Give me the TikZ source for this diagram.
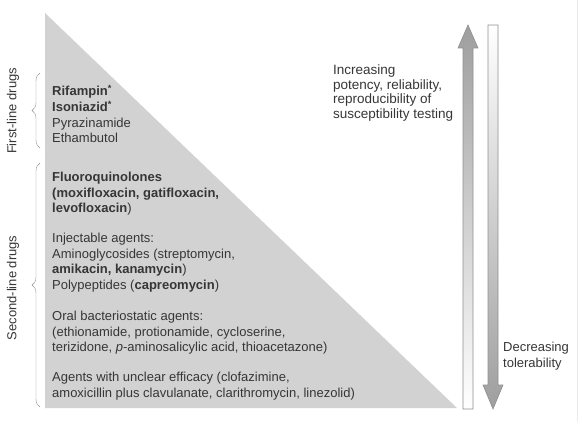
\documentclass[tikz,border=0pt]{standalone}
\usepackage{fontspec}
\setmainfont{Liberation Sans}
\usetikzlibrary{decorations.pathreplacing}
\definecolor{testo}{HTML}{363636}
\definecolor{triangolo}{HTML}{D2D2D2}
\definecolor{bordo}{HTML}{909090}
\begin{document}
\begin{tikzpicture}[
        x=1pt, y=-1pt,
        every node/.style={inner sep=0pt, text=testo, font=\fontsize{13}{15.6}\selectfont},
        gruppo/.style={anchor=north west, align=left},
        graffa/.style={draw=bordo, thin, decorate, decoration={brace, amplitude=8pt}},
        etichetta_linea/.style={rotate=90, anchor=center},
        freccia/.style={draw=bordo, line width=0.6pt}
        ]
    \useasboundingbox (0,0) rectangle (582,425);
    \draw[black!8] (577,0) -- (577,422);
    % triangolo
    \coordinate (apice) at (45,13);
    \coordinate (base_sx) at (45,408);
    \coordinate (base_dx) at (457,408);
    \fill[triangolo] (apice) -- (base_sx) -- (base_dx) -- cycle;
    % farmaci
    \node[gruppo] (prima) at (52,85) {\textbf{Rifampin\textsuperscript{*}}\\\textbf{Isoniazid\textsuperscript{*}}\\Pyrazinamide\\Ethambutol};
    \node[gruppo] (fluoro) at (52,172) {\textbf{Fluoroquinolones}\\\textbf{(moxifloxacin, gatifloxacin,}\\\textbf{levofloxacin})};
    \node[gruppo] (inietta) at (52,233) {Injectable agents:\\Aminoglycosides (streptomycin,\\\textbf{amikacin, kanamycin})\\Polypeptides (\textbf{capreomycin})};
    \node[gruppo] (orali) at (52,311) {Oral bacteriostatic agents:\\(ethionamide, protionamide, cycloserine,\\terizidone, \textit{p}-aminosalicylic acid, thioacetazone)};
    \node[gruppo] (incerti) at (52,372) {Agents with unclear efficacy (clofazimine,\\amoxicillin plus clavulanate, clarithromycin, linezolid)};
    % graffe
    \coordinate (g1_alto) at (40,73);
    \coordinate (g1_basso) at (40,148);
    \coordinate (g2_alto) at (40,163);
    \coordinate (g2_basso) at (40,407);
    \draw[graffa] (g1_basso) -- (g1_alto);
    \draw[graffa] (g2_basso) -- (g2_alto);
    \node[etichetta_linea] (prima_linea) at (13,111) {First-line drugs};
    \node[etichetta_linea] (seconda_linea) at (13,288) {Second-line drugs};
    % frecce
    \shade[freccia, top color=black!38, bottom color=white]
        (468,25) -- (478,48) -- (473,48) -- (473,409) -- (463,409) -- (463,48) -- (458,48) -- cycle;
    \shade[freccia, top color=white, bottom color=black!38]
        (493,409) -- (503,385) -- (498,385) -- (498,25) -- (488,25) -- (488,385) -- (483,385) -- cycle;
    \node[gruppo, font=\fontsize{13.5}{14.5}\selectfont] (aumento) at (333,65) {Increasing\\potency, reliability,\\reproducibility of\\susceptibility testing};
    \node[gruppo, font=\fontsize{13}{16}\selectfont] (calo) at (503,342) {Decreasing\\tolerability};
\end{tikzpicture}
\end{document}
